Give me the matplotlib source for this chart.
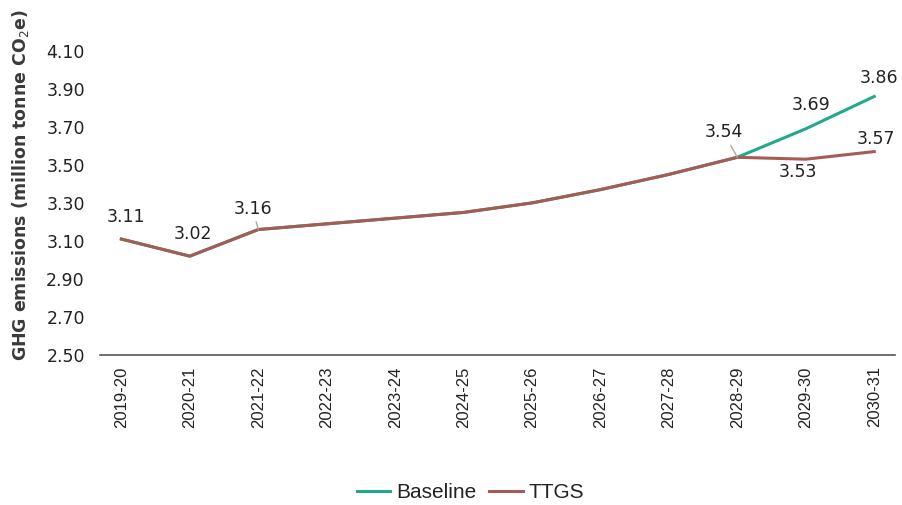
import numpy as np
import matplotlib
matplotlib.use('Agg')
import matplotlib.pyplot as plt

plt.rcParams['font.family'] = ['DejaVu Sans']

years = ['2019-20', '2020-21', '2021-22', '2022-23', '2023-24', '2024-25',
         '2025-26', '2026-27', '2027-28', '2028-29', '2029-30', '2030-31']
baseline = [3.11, 3.02, 3.16, 3.19, 3.22, 3.25, 3.30, 3.37, 3.45, 3.54, 3.69, 3.86]
ttgs = [3.11, 3.02, 3.16, 3.19, 3.22, 3.25, 3.30, 3.37, 3.45, 3.54, 3.53, 3.57]
yticks = [2.50, 2.70, 2.90, 3.10, 3.30, 3.50, 3.70, 3.90, 4.10]

green = '#20a98b'
red = '#a65b55'
txt = '#222222'
num_font = 12.5

fig = plt.figure(figsize=(9.02, 5.05), dpi=100)
ax = fig.add_axes([0.111, 0.297, 0.881, 0.64])

x = np.arange(len(years))
ax.plot(x, baseline, color=green, lw=2.2, label='Baseline')
ax.plot(x, ttgs, color=red, lw=2.2, label='TTGS')

ax.set_xlim(-0.31, 11.3)
ax.set_ylim(2.5, 4.2)
ax.set_yticks(yticks)
ax.set_yticklabels(['%.2f' % v for v in yticks])
ax.set_xticks(x)
ax.set_xticklabels(years, rotation=90, family='Liberation Sans', fontsize=12)
ax.tick_params(axis='y', length=0, labelsize=num_font, colors=txt, pad=11)
ax.tick_params(axis='x', length=0, colors=txt, pad=8)

for s in ['top', 'right', 'left']:
    ax.spines[s].set_visible(False)
ax.spines['bottom'].set_color('#555555')
ax.spines['bottom'].set_linewidth(1.2)

ax.set_ylabel('GHG emissions (million tonne CO$_2$e)', fontsize=12.5,
              color='#3a3a3a', fontweight='bold')
ax.yaxis.set_label_coords(-0.087, 0.525)

# data labels: (index, series, text, dx, dy in points, leader)
labels = [
    (0, ttgs, '3.11', 3, 16, False),
    (1, ttgs, '3.02', 2, 16, False),
    (2, ttgs, '3.16', -4, 15, True),
    (9, baseline, '3.54', -10, 18, True),
    (10, baseline, '3.69', 4, 17, False),
    (11, baseline, '3.86', 3.5, 13, False),
    (11, ttgs, '3.57', 1.5, 9, False),
    (10, ttgs, '3.53', -6, -9, False),
]
for i, ser, t, dx, dy, lead in labels:
    props = None
    if lead:
        props = dict(arrowstyle='-', color='#aaaaaa', lw=1, shrinkA=1, shrinkB=0)
    ax.annotate(t, (x[i], ser[i]), xytext=(dx, dy), textcoords='offset points',
                ha='center', va='center', fontsize=num_font, color=txt,
                arrowprops=props)

leg = fig.legend(loc='center', bbox_to_anchor=(0.522, 0.024), ncol=2,
                 frameon=False, prop={'family': 'Liberation Sans', 'size': 15},
                 handlelength=1.6, columnspacing=0.6, handletextpad=0.3)
for t in leg.get_texts():
    t.set_color(txt)

fig.savefig('out.png', dpi=100)
